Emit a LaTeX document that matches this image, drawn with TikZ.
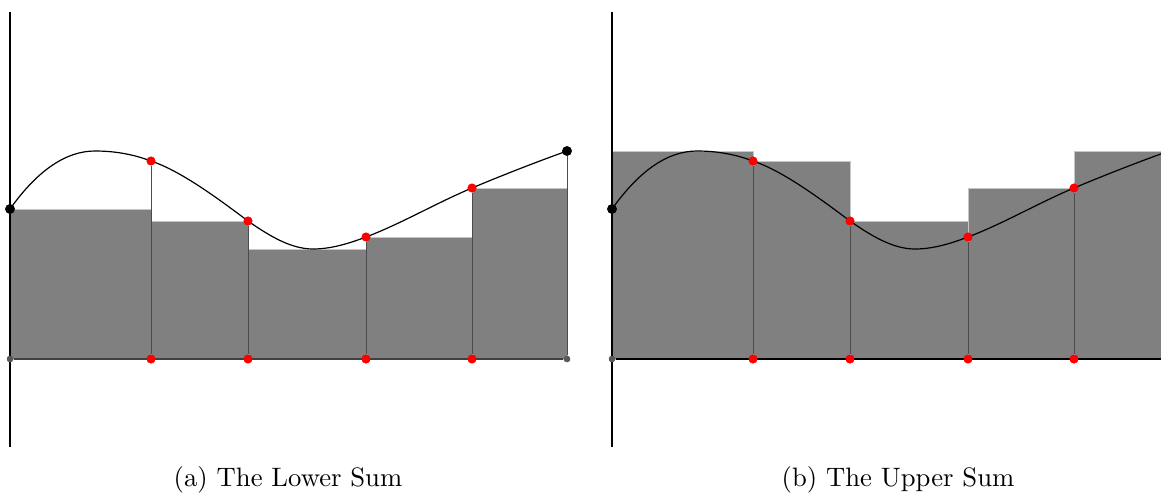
\documentclass[tikz,border=0pt]{standalone}
\usetikzlibrary{positioning,calc}

% the graph of f, used in both panels
\newcommand{\fgraph}{%
  \draw[curve] (0,150) .. controls (28.3,189.7) and (56.7,208) .. (85,208)
    .. controls (103.7,208) and (122.3,205.1) .. (141,198)
    .. controls (170.1,188.3) and (205.7,162.2) .. (238,138)
    .. controls (259.7,122.8) and (281.3,110) .. (303,110)
    .. controls (320.7,110) and (338.3,115.3) .. (356,122)
    .. controls (391.3,135.4) and (426.7,156.2) .. (462,171)
    .. controls (493.7,184.3) and (525.3,196.6) .. (557,208);}

\begin{document}
\begin{tikzpicture}[
    x=0.375pt, y=0.375pt,
    axis/.style={draw=black, line width=0.4pt},
    bar/.style={fill=gray, draw=gray!45, line width=0.35pt},
    riser/.style={draw=black!70, line width=0.35pt},
    curve/.style={draw=black, line width=0.45pt},
    tag/.style={circle, fill=red, inner sep=0pt, minimum size=3.3pt},
    endpt/.style={circle, fill=black, inner sep=0pt, minimum size=3.6pt},
    foot/.style={circle, fill=black!65, inner sep=0pt, minimum size=2.4pt},
    caption/.style={font=\normalsize, inner sep=0pt}
]
    \useasboundingbox (-10,-140) rectangle (1151,359);

    % (a) lower sum
    \begin{scope}
        \foreach \a/\b/\h in {0/141/150, 141/238/138, 238/356/110, 356/462/122, 462/557/171}
            \path[bar] (\a,0) rectangle (\b,\h);
        \node[foot] (lo0) at (0,0) {};
        \node[foot] (lo5) at (557,0) {};
        \node[endpt] (lf0) at (0,150) {};
        \node[endpt] (lf5) at (557,208) {};
        \draw[riser] (lo5) -- (lf5);
        \foreach \x/\y [count=\i] in {141/198, 238/138, 356/122, 462/171} {
            \node[tag] (lo\i) at (\x,0) {};
            \node[tag] (lf\i) at (\x,\y) {};
            \draw[riser] (lo\i) -- (lf\i);
        }
        \coordinate (ybot) at (0,-88);
        \coordinate (ytop) at (0,347);
        \draw[axis] (ybot) -- (ytop);
        \draw[axis, draw=black!75] (lo0) -- (lo5);
        \fgraph
        % dots on top
        \foreach \i in {1,...,4} {
            \node[tag] at (lo\i) {};
            \node[tag] at (lf\i) {};
        }
        \node[foot] at (lo0) {};
        \node[foot] at (lo5) {};
        \node[endpt] at (lf0) {};
        \node[endpt] at (lf5) {};
        \node[caption] (capA) at (278,-121) {(a) The Lower Sum};
    \end{scope}

    % (b) upper sum
    \begin{scope}[xshift=225.75pt]
        \clip (-20,-140) rectangle (549,359);
        \foreach \a/\b/\h in {0/141/208, 141/238/198, 238/356/138, 356/462/171, 462/560/208}
            \path[bar] (\a,0) rectangle (\b,\h);
        \node[foot] (ro0) at (0,0) {};
        \coordinate (ro5) at (560,0);
        \node[endpt] (rf0) at (0,150) {};
        \foreach \x/\y [count=\i] in {141/198, 238/138, 356/122, 462/171} {
            \node[tag] (ro\i) at (\x,0) {};
            \node[tag] (rf\i) at (\x,\y) {};
            \draw[riser] (ro\i) -- (rf\i);
        }
        \coordinate (rybot) at (0,-88);
        \coordinate (rytop) at (0,347);
        \draw[axis] (rybot) -- (rytop);
        \draw[axis] (ro0) -- (ro5);
        \fgraph
        \foreach \i in {1,...,4} {
            \node[tag] at (ro\i) {};
            \node[tag] at (rf\i) {};
        }
        \node[foot] at (ro0) {};
        \node[endpt] at (rf0) {};
        \node[caption] (capB) at (286,-121) {(b) The Upper Sum};
    \end{scope}
\end{tikzpicture}
\end{document}
